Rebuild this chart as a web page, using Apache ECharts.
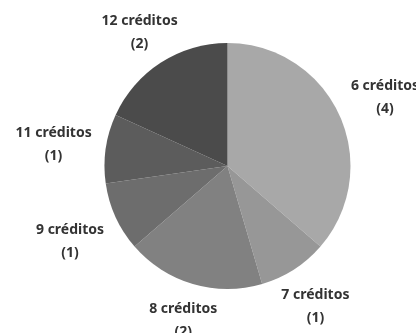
<!DOCTYPE html>
<html>
<head>
<meta charset="utf-8">
<style>
  html, body { margin: 0; padding: 0; background: #ffffff; }
  #chart { width: 416px; height: 333px; }
</style>
<script src="https://cdn.jsdelivr.net/npm/echarts@6/dist/echarts.min.js"></script>
</head>
<body>
<div id="chart"></div>
<script>
// Number of courses per credit load
const categories = ['6 créditos', '7 créditos', '8 créditos', '9 créditos', '11 créditos', '12 créditos'];
const counts = [4, 1, 2, 1, 1, 2];
const sliceColors = ['#a8a8a8', '#979797', '#818181', '#6d6d6d', '#5c5c5c', '#4b4b4b'];

const CX = 227.5, CY = 166, R = 123;
const total = counts.reduce((a, b) => a + b, 0);

// mid-angle of each slice, clockwise from 12 o'clock
const midAngles = [];
let acc = 0;
counts.forEach(v => {
  midAngles.push((acc + v / 2) / total * Math.PI * 2);
  acc += v;
});

const chart = echarts.init(document.getElementById('chart'), null, { renderer: 'canvas' });
chart.setOption({
  animation: false,
  backgroundColor: '#ffffff',
  series: [{
    type: 'pie',
    center: [CX, CY],
    radius: [0, R],
    startAngle: 90,
    clockwise: true,
    silent: true,
    itemStyle: { borderWidth: 0 },
    data: categories.map((name, i) => ({
      name: name,
      value: counts[i],
      itemStyle: { color: sliceColors[i] }
    })),
    label: {
      show: true,
      position: 'inside',
      formatter: '{b}\n({c})',
      fontFamily: 'Noto Sans',
      fontWeight: 'bold',
      fontSize: 14,
      lineHeight: 23,
      color: '#333333',
      align: 'center',
      overflow: 'none'
    },
    labelLine: { show: false },
    // place each text block just off the rim, centred on the slice's mid-angle
    labelLayout: function (p) {
      const a = midAngles[p.dataIndex];
      const s = Math.sin(a), c = -Math.cos(a);
      const half = Math.sqrt(Math.pow(46 * s, 2) + Math.pow(25 * c, 2));
      const d = R + 7 + half;
      return {
        x: CX + s * d,
        y: CY + c * d + 3.5,
        align: 'center',
        verticalAlign: 'middle'
      };
    }
  }]
});
</script>
</body>
</html>
